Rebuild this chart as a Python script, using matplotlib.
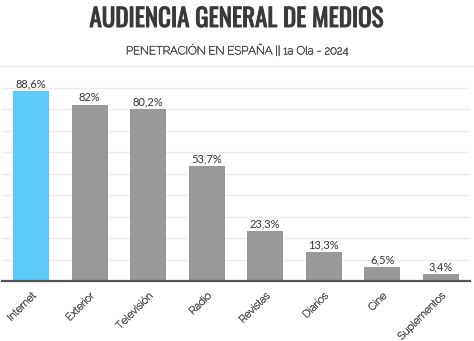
import matplotlib.pyplot as plt
import matplotlib.patheffects as pe
from matplotlib.lines import Line2D

medios = ['Internet', 'Exterior', 'Televisión', 'Radio', 'Revistas',
          'Diarios', 'Cine', 'Suplementos']
penetracion = [88.6, 82, 80.2, 53.7, 23.3, 13.3, 6.5, 3.4]
titulo = 'AUDIENCIA GENERAL DE MEDIOS'
subtitulo = 'PENETRACIÓN EN ESPAÑA || 1a Ola - 2024'

fuente = ['Raleway', 'DejaVu Sans']


def etiqueta(v):
    # formato espanol: coma decimal, sin decimales si es entero
    s = ('%g' % v).replace('.', ',')
    return s + '%'


def grueso(color, w):
    # Raleway / Oswald salen muy finas, se engordan con un trazo
    return [pe.withStroke(linewidth=w, foreground=color)]


fig = plt.figure(figsize=(4.74, 3.41), dpi=100)
fig.patch.set_facecolor('white')

ax = fig.add_axes([2 / 474, 1 - 281 / 341, 468 / 474, 197.3 / 341])
colores = ['#5ccbfb'] + ['#999999'] * (len(medios) - 1)
x = range(len(medios))
ax.bar(x, penetracion, width=0.615, color=colores, zorder=2)

ax.set_xlim(-0.5, len(medios) - 0.5)
ax.set_ylim(0, 92)
ax.set_yticks(range(0, 91, 10))
ax.yaxis.grid(True, color='#ececec', linewidth=1, zorder=0)
ax.tick_params(axis='y', left=False, labelleft=False)
ax.tick_params(axis='x', bottom=False, pad=4)
for s in ['top', 'right', 'left']:
    ax.spines[s].set_visible(False)
ax.spines['bottom'].set_color('#555555')
ax.spines['bottom'].set_linewidth(1.6)
ax.spines['bottom'].set_zorder(3)

ax.set_xticks(list(x))
ax.set_xticklabels(medios, rotation=45, ha='right', va='top',
                   rotation_mode='anchor', fontsize=7.5, color='#666666',
                   family=fuente)
for lbl in ax.get_xticklabels():
    lbl.set_path_effects(grueso('#666666', 0.5))

for i, v in enumerate(penetracion):
    ax.text(i, v + 0.8, etiqueta(v), ha='center', va='bottom',
            fontsize=8, color='#333333', family=['Lato', 'DejaVu Sans'])

fig.text(0.5, 1 - 19 / 341, titulo, ha='center', va='center',
         fontsize=18, fontweight='bold', color='#3a3a3a',
         family=['Oswald', 'DejaVu Sans'],
         path_effects=grueso('#3a3a3a', 0.7))
fig.text(0.5, 1 - 50 / 341, subtitulo, ha='center', va='center',
         fontsize=8.2, color='#555555', family=fuente,
         path_effects=grueso('#555555', 0.45))
fig.add_artist(Line2D([0, 1], [1 - 66 / 341, 1 - 66 / 341],
                      transform=fig.transFigure, color='#eeeeee', linewidth=1))

fig.savefig('out.png', dpi=100)
